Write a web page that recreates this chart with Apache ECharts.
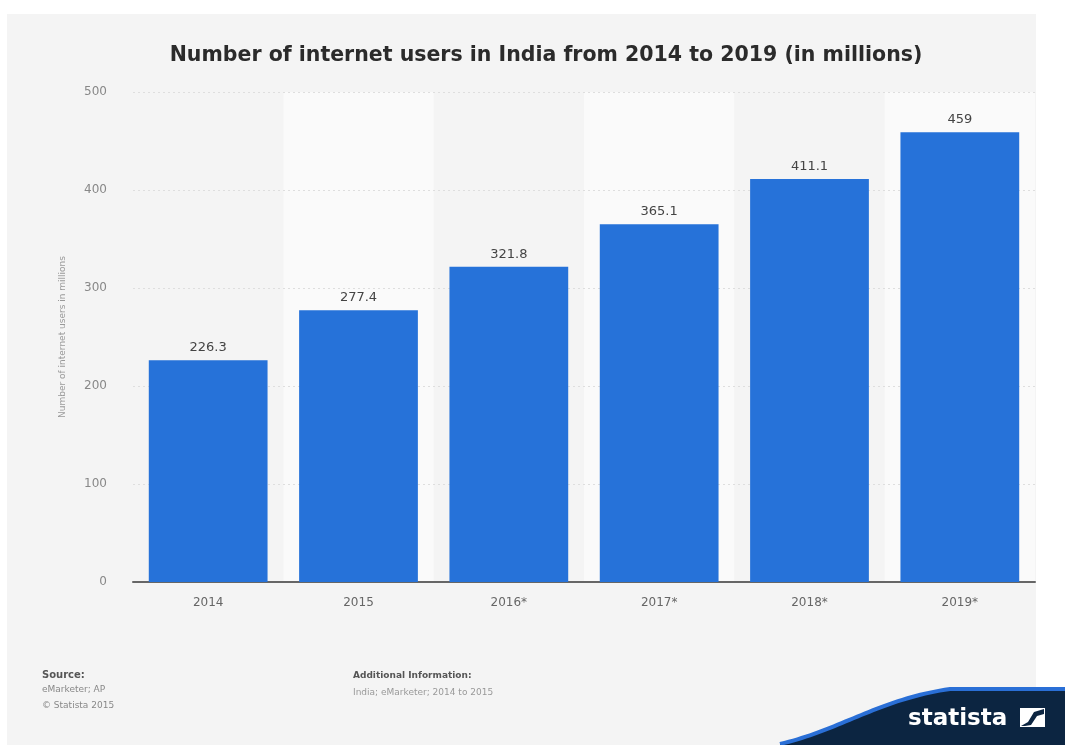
<!DOCTYPE html>
<html>
<head>
<meta charset="utf-8">
<script src="https://cdn.jsdelivr.net/npm/echarts@6/dist/echarts.min.js"></script>
<style>html,body{margin:0;padding:0;background:#fff}#c{width:1065px;height:745px}</style>
</head>
<body>
<div id="c"></div>
<script>
const categories = ['2014', '2015', '2016*', '2017*', '2018*', '2019*'];
const users = [226.3, 277.4, 321.8, 365.1, 411.1, 459];
const yTicks = [0, 100, 200, 300, 400, 500];

// banner curve (decoration)
function bez(p0, p1, p2, p3, n) {
  const pts = [];
  for (let i = 0; i <= n; i++) {
    const t = i / n, u = 1 - t;
    pts.push([
      u*u*u*p0[0] + 3*u*u*t*p1[0] + 3*u*t*t*p2[0] + t*t*t*p3[0],
      u*u*u*p0[1] + 3*u*u*t*p1[1] + 3*u*t*t*p2[1] + t*t*t*p3[1]
    ]);
  }
  return pts;
}
const curve = bez([780, 744], [840, 730], [880, 699], [950, 689], 40);
const fillPts = curve.concat([[1065, 689], [1065, 745], [780, 745]]);
const strokePts = curve.concat([[1065, 689]]);

const chart = echarts.init(document.getElementById('c'));
chart.setOption({
  backgroundColor: '#ffffff',
  animation: false,
  title: {
    text: 'Number of internet users in India from 2014 to 2019 (in millions)',
    left: 541, top: 40, textAlign: 'center',
    textStyle: { fontFamily: 'DejaVu Sans', fontWeight: 'bold', fontSize: 20.5, color: '#2b2b2b' }
  },
  graphic: [
    { type: 'rect', z: -10, shape: { x: 7, y: 14, width: 1029, height: 731 }, style: { fill: '#f4f4f4' } },
    { type: 'text', x: 42, y: 670, style: { text: 'Source:', font: 'bold 10px "DejaVu Sans"', fill: '#555' } },
    { type: 'text', x: 42, y: 685, style: { text: 'eMarketer; AP', font: '9px "DejaVu Sans"', fill: '#888' } },
    { type: 'text', x: 42, y: 701, style: { text: '\u00A9 Statista 2015', font: '9px "DejaVu Sans"', fill: '#888' } },
    { type: 'text', x: 353, y: 671, style: { text: 'Additional Information:', font: 'bold 9px "DejaVu Sans"', fill: '#555' } },
    { type: 'text', x: 353, y: 688, style: { text: 'India; eMarketer; 2014 to 2015', font: '9px "DejaVu Sans"', fill: '#999' } },
    { type: 'polygon', z: 5, shape: { points: fillPts }, style: { fill: '#0c2541' } },
    { type: 'polyline', z: 6, shape: { points: strokePts }, style: { fill: null, stroke: '#2a6fd6', lineWidth: 4 } },
    { type: 'text', z: 7, x: 908, y: 708, style: { text: 'statista', font: 'bold 23px "DejaVu Sans"', fill: '#ffffff' } },
    { type: 'rect', z: 7, shape: { x: 1020, y: 708, width: 25, height: 19 }, style: { fill: '#ffffff' } },
    { type: 'polygon', z: 8, shape: { points: [[1021, 726], [1028, 722], [1034, 712], [1044, 709], [1044, 714], [1037, 716], [1031, 725], [1025, 726]] }, style: { fill: '#0c2541' } }
  ],
  grid: { left: 133, right: 30, top: 92, bottom: 163 },
  xAxis: {
    type: 'category',
    data: categories,
    z: 2,
    axisLine: { lineStyle: { color: '#666', width: 2 } },
    axisTick: { show: false },
    axisLabel: { color: '#666', fontSize: 12, fontFamily: 'DejaVu Sans', margin: 15 },
    splitArea: { show: true, areaStyle: { color: ['rgba(0,0,0,0)', '#fafafa'] } }
  },
  yAxis: {
    type: 'value',
    z: 3,
    min: 0, max: 500, interval: 100,
    name: 'Number of internet users in millions',
    nameLocation: 'middle',
    nameGap: 66,
    nameTextStyle: { color: '#999', fontSize: 9, fontFamily: 'DejaVu Sans' },
    axisLine: { show: false },
    axisTick: { show: false },
    axisLabel: { color: '#888', fontSize: 12, fontFamily: 'DejaVu Sans', margin: 26,
      formatter: v => yTicks.includes(v) ? String(v) : '' },
    splitLine: { showMinLine: false, lineStyle: { color: '#dedede', type: [2, 3] } }
  },
  series: [{
    type: 'bar',
    z: 4,
    data: users,
    barCategoryGap: '21%',
    itemStyle: { color: '#2672d9' },
    label: { show: true, position: 'top', distance: 6, color: '#444', fontSize: 13, fontFamily: 'DejaVu Sans' }
  }]
});
</script>
</body>
</html>
